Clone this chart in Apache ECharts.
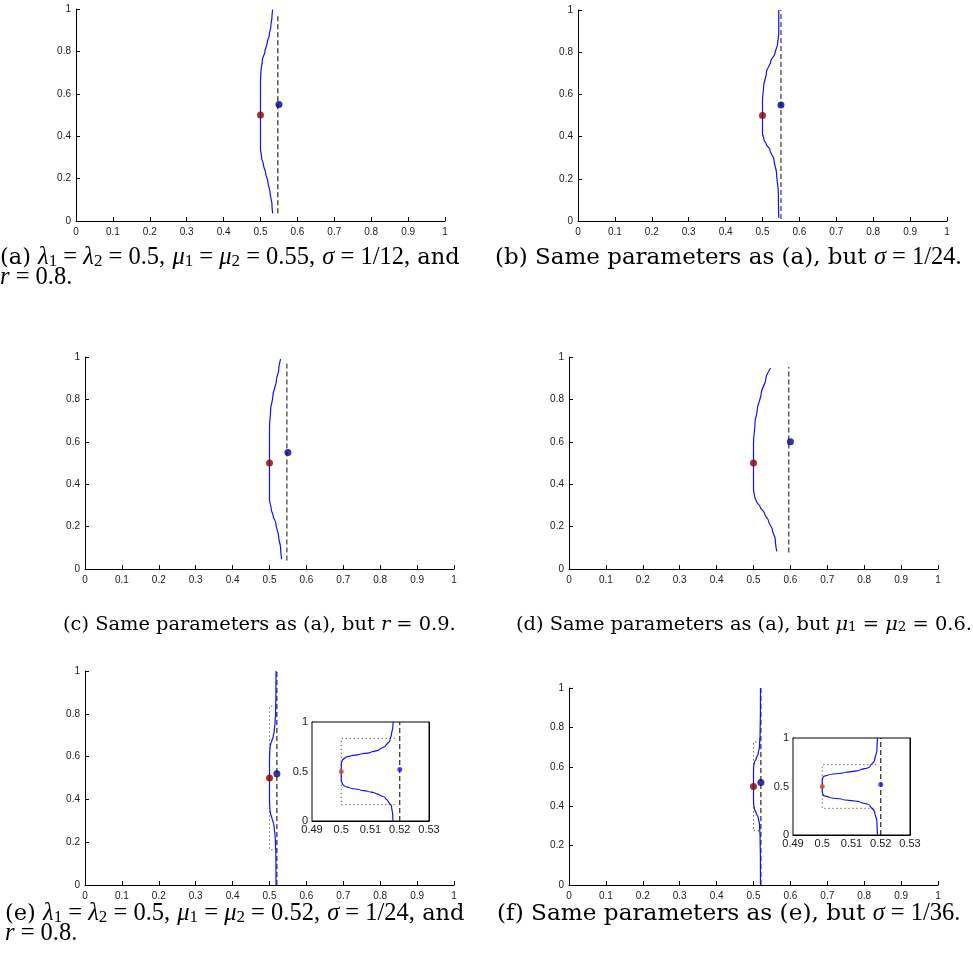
<!DOCTYPE html>
<html><head><meta charset="utf-8">
<script src="https://cdn.jsdelivr.net/npm/echarts@6/dist/echarts.min.js"></script>
<style>html,body{margin:0;padding:0;background:#fff}#c{width:973px;height:977px}</style>
</head><body><div id="c"></div>
<script>
// ---------- data (x, y) ----------
const curveA = [[0.533,0.036],[0.531,0.08],[0.526,0.132],[0.520,0.185],[0.514,0.226],[0.508,0.265],[0.503,0.30],[0.500,0.34],[0.500,0.50],[0.500,0.66],[0.501,0.70],[0.505,0.76],[0.512,0.80],[0.518,0.84],[0.524,0.88],[0.528,0.918],[0.531,0.96],[0.533,0.997]];
const curveB = [[0.544,0.014],[0.543,0.132],[0.538,0.227],[0.531,0.29],[0.520,0.338],[0.510,0.365],[0.504,0.385],[0.500,0.416],[0.500,0.50],[0.500,0.574],[0.503,0.637],[0.511,0.707],[0.522,0.755],[0.534,0.795],[0.541,0.84],[0.544,0.89],[0.544,0.95],[0.544,1.0]];
const curveC = [[0.533,0.047],[0.530,0.10],[0.525,0.15],[0.517,0.217],[0.510,0.25],[0.505,0.28],[0.500,0.327],[0.500,0.50],[0.500,0.67],[0.503,0.75],[0.509,0.814],[0.519,0.893],[0.525,0.94],[0.530,0.99]];
const curveD = [[0.563,0.083],[0.559,0.14],[0.551,0.185],[0.541,0.225],[0.530,0.262],[0.518,0.294],[0.508,0.318],[0.503,0.343],[0.500,0.374],[0.500,0.50],[0.500,0.594],[0.504,0.689],[0.510,0.75],[0.521,0.83],[0.533,0.893],[0.5465,0.948]];
const curveE = [[0.5177,0],[0.5176,0.06],[0.5172,0.149],[0.5160,0.20],[0.5150,0.235],[0.5130,0.264],[0.5115,0.283],[0.5090,0.30],[0.5065,0.313],[0.5030,0.333],[0.5012,0.35],[0.5004,0.374],[0.5000,0.41],[0.5000,0.50],[0.5000,0.58],[0.5004,0.615],[0.5015,0.645],[0.5030,0.656],[0.5065,0.675],[0.5100,0.693],[0.5130,0.72],[0.5152,0.76],[0.5166,0.81],[0.5172,0.88],[0.5176,0.94],[0.5178,1.0]];
const curveF = [[0.5189,0],[0.5187,0.137],[0.5179,0.24],[0.5162,0.308],[0.5128,0.342],[0.5071,0.366],[0.5025,0.387],[0.5003,0.411],[0.5000,0.445],[0.5000,0.50],[0.5000,0.565],[0.5003,0.60],[0.5025,0.623],[0.5071,0.64],[0.5128,0.668],[0.5162,0.702],[0.5179,0.77],[0.5187,0.873],[0.5189,1.0]];

const dashedA = [[0.547,0.036],[0.547,0.976]];
const dashedB = [[0.550,0.010],[0.550,1.0]];
const dashedC = [[0.547,0.040],[0.547,0.980]];
const dashedD = [[0.5955,0.078],[0.5955,0.953]];
const dashedE = [[0.52,0],[0.52,1]];
const dashedF = [[0.52,0],[0.52,1]];

const dottedE = [[0.5183,0.835],[0.5,0.835],[0.5,0.165],[0.5183,0.165]];
const dottedF = [[0.5185,0.725],[0.5,0.725],[0.5,0.275],[0.5185,0.275]];

const redA = [[0.5,0.5]], blueA = [[0.55,0.55]];
const redB = [[0.5,0.5]], blueB = [[0.55,0.55]];
const redC = [[0.5,0.5]], blueC = [[0.55,0.55]];
const redD = [[0.5,0.5]], blueD = [[0.6,0.6]];
const redE = [[0.5,0.5]], blueE = [[0.52,0.52]];
const redF = [[0.5,0.5]], blueF = [[0.52,0.52]];

const mainXTicks = {min:0, max:1, interval:0.1};
const mainYTicks = {min:0, max:1, interval:0.2};
const insetXTicks = {min:0.49, max:0.53, interval:0.01};
const insetYTicks = {min:0, max:1, interval:0.5};

const captions = {
  a1: '(a) {g|λ}{s|1}{m| = }{g|λ}{s|2}{m| = 0.5,} {g|μ}{s|1}{m| = }{g|μ}{s|2}{m| = 0.55,} {g|σ}{m| = 1/12,} and',
  a2: '{g|r}{m| = 0.8.}',
  b:  '(b) Same parameters as (a), but {g|σ}{m| = 1/24.}',
  c:  '(c) Same parameters as (a), but {i|r} = 0.9.',
  d:  '(d) Same parameters as (a), but {i|μ}{s2|1} = {i|μ}{s2|2} = 0.6.',
  e1: '(e) {g|λ}{s|1}{m| = }{g|λ}{s|2}{m| = 0.5,} {g|μ}{s|1}{m| = }{g|μ}{s|2}{m| = 0.52,} {g|σ}{m| = 1/24,} and',
  e2: '{g|r}{m| = 0.8.}',
  f:  '(f) Same parameters as (e), but {g|σ}{m| = 1/36.}'
};

// ---------- layout ----------
const panels = [
  {grid:{left:76, top:9,   width:369, height:212}, curve:curveA, dashed:dashedA, dashColor:'#111', dotted:null, red:redA, blue:blueA, inset:false},
  {grid:{left:578,top:10,  width:369, height:211}, curve:curveB, dashed:dashedB, dashColor:'#555', dotted:null, red:redB, blue:blueB, inset:false},
  {grid:{left:85, top:357, width:369, height:212}, curve:curveC, dashed:dashedC, dashColor:'#555', dotted:null, red:redC, blue:blueC, inset:false},
  {grid:{left:569,top:357, width:369, height:212}, curve:curveD, dashed:dashedD, dashColor:'#555', dotted:null, red:redD, blue:blueD, inset:false},
  {grid:{left:85, top:671, width:369, height:214}, curve:curveE, dashed:dashedE, dashColor:'#111', dotted:dottedE, red:redE, blue:blueE, inset:false},
  {grid:{left:569,top:688, width:369, height:197}, curve:curveF, dashed:dashedF, dashColor:'#111', dotted:dottedF, red:redF, blue:blueF, inset:false},
  {grid:{left:312,top:722, width:117, height:99},  curve:curveE, dashed:dashedE, dashColor:'#111', dotted:dottedE, red:redE, blue:blueE, inset:true},
  {grid:{left:793,top:738, width:117, height:97},  curve:curveF, dashed:dashedF, dashColor:'#111', dotted:dottedF, red:redF, blue:blueF, inset:true}
];

const grids = [], xAxes = [], yAxes = [], series = [];
const tickFont = 'Liberation Sans, Arial, sans-serif';
panels.forEach((p, i) => {
  grids.push(Object.assign({containLabel:false, show:p.inset, borderColor:'#000', borderWidth:1, backgroundColor:'#fff', z: p.inset ? 5 : 0}, p.grid));
  const xt = p.inset ? insetXTicks : mainXTicks;
  const yt = p.inset ? insetYTicks : mainYTicks;
  const fs = p.inset ? 11 : 10;
  const ax = {
    axisLine:{show:true, onZero:false, lineStyle:{color:'#000', width:1}},
    axisTick:{show:true, inside:true, length:p.inset?3:4, lineStyle:{color:'#000', width:1}},
    splitLine:{show:false}
  };
  xAxes.push(Object.assign({gridIndex:i, type:'value', position:'bottom'}, xt, ax,
    {axisLabel:{fontSize:fs, color:'#1a1a1a', margin:p.inset?3:6, fontFamily:tickFont}}));
  yAxes.push(Object.assign({gridIndex:i, type:'value', position:'left'}, yt, ax,
    {axisLabel:{fontSize:fs, color:'#1a1a1a', margin:p.inset?4:5, fontFamily:tickFont}}));
  const xi = xAxes.length - 1, yi = yAxes.length - 1;
  if (p.inset) {
    xAxes.push(Object.assign({gridIndex:i, type:'value', position:'top'}, xt, ax, {axisLabel:{show:false}}));
    yAxes.push(Object.assign({gridIndex:i, type:'value', position:'right'}, yt, ax, {axisLabel:{show:false}}));
  }
  const z = p.inset ? 6 : 2;
  if (p.dotted) series.push({type:'line', xAxisIndex:xi, yAxisIndex:yi, data:p.dotted, symbol:'none', z:z, silent:true,
    lineStyle:{color:'#333', width:1, type:[1,3]}});
  series.push({type:'line', xAxisIndex:xi, yAxisIndex:yi, data:p.dashed, symbol:'none', z:z, silent:true,
    lineStyle:{color:p.dashColor, width:p.dashColor==='#555'?1.4:1.1, type:[5,3]}});
  series.push({type:'line', xAxisIndex:xi, yAxisIndex:yi, data:p.curve, symbol:'none', z:z+1, silent:true,
    smooth:0.35, smoothMonotone:'y', lineStyle:{color:'#1010ff', width:1.2}});
  series.push({type:'scatter', xAxisIndex:xi, yAxisIndex:yi, data:p.red, symbolSize:p.inset?5:7, z:z+2, silent:true,
    itemStyle:{color:p.inset?'#c4501c':'#8a0000'}});
  series.push({type:'scatter', xAxisIndex:xi, yAxisIndex:yi, data:p.blue, symbolSize:p.inset?5:7, z:z+2, silent:true,
    itemStyle:{color:p.inset?'#1a1aff':'#00008a'}});
});

const proseFont = 'DejaVu Serif, serif';
const mathFont = 'Liberation Serif, Times New Roman, serif';
const rich = {
  i:{fontStyle:'italic', fontSize:19.4, fontFamily:proseFont, fill:'#000'},
  s2:{fontSize:13.5, fontFamily:proseFont, fill:'#000', verticalAlign:'bottom', lineHeight:14},
  g:{fontStyle:'italic', fontSize:24.5, fontFamily:mathFont, fill:'#000'},
  m:{fontSize:24.5, fontFamily:mathFont, fill:'#000'},
  s:{fontSize:17, fontFamily:mathFont, fill:'#000', verticalAlign:'bottom', lineHeight:15}
};
function cap(text, x, y, size) {
  return {type:'text', x:x, y:y, silent:true, z:10,
    style:{text:text, fontSize:size, fontFamily:proseFont, fill:'#000', verticalAlign:'middle', rich:rich}};
}
const graphic = [
  cap(captions.a1, 0, 258, 22.5), cap(captions.a2, 0, 278, 22.5),
  cap(captions.b, 495, 258, 23),
  cap(captions.c, 63, 625, 19.4), cap(captions.d, 516, 625, 19.4),
  cap(captions.e1, 5, 914, 22.5), cap(captions.e2, 5, 934, 22.5),
  cap(captions.f, 497, 914, 23.2)
];

const chart = echarts.init(document.getElementById('c'), null, {renderer:'canvas'});
chart.setOption({animation:false, backgroundColor:'#fff', grid:grids, xAxis:xAxes, yAxis:yAxes, series:series, graphic:graphic});
</script></body></html>
